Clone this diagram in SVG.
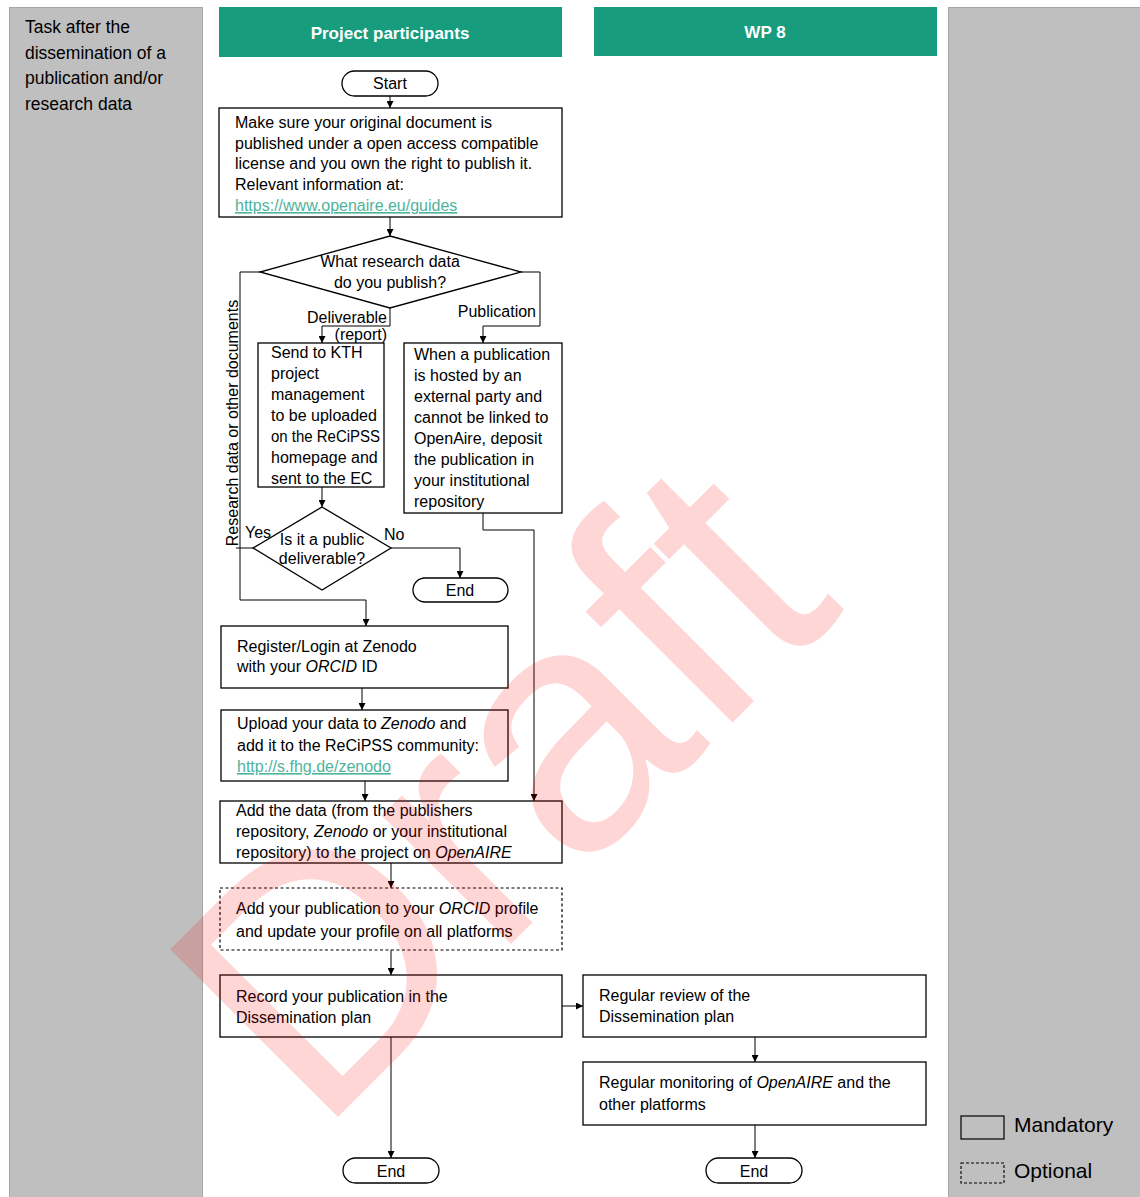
<svg xmlns="http://www.w3.org/2000/svg" width="1140" height="1197" viewBox="0 0 1140 1197">
<style>
text{font-family:"Liberation Sans",Arial,sans-serif;font-size:16px;fill:#000}
.side{font-size:17.5px}
.hdr{font-size:17px;font-weight:bold;fill:#fff;text-anchor:middle}
.lane{fill:#BFBFBF;stroke:#A6A6A6;stroke-width:1}
.hbar{fill:#179C7D}
.box{fill:#fff;stroke:#000;stroke-width:1.3}
.opt{fill:#fff;stroke:#000;stroke-width:1.2;stroke-dasharray:3,2.5}
.c{text-anchor:middle}
.i{font-style:italic}
.link{fill:#4FB39B;text-decoration:underline}
.conn path{fill:none;stroke:#000;stroke-width:1}
.leg{font-size:21px}
.wm{font-size:345px;fill:#FF0000;fill-opacity:0.16}
</style>
<defs>
<marker id="ah" markerWidth="7" markerHeight="7" refX="7" refY="3.5" orient="auto" markerUnits="userSpaceOnUse">
<path d="M0,0 L7,3.5 L0,7 z" fill="#000"/>
</marker>
</defs>
<rect width="1140" height="1197" fill="#fff"/>
<g id="lanes">
<rect class="lane" x="9.5" y="7.5" width="193" height="1195"/>
<rect class="lane" x="948.5" y="7.5" width="197" height="1195"/>
<text class="side" x="25" y="33">Task after the</text>
<text class="side" x="25" y="59">dissemination of a</text>
<text class="side" x="25" y="84">publication and/or</text>
<text class="side" x="25" y="110">research data</text>
</g>
<g id="header-pp">
<rect class="hbar" x="219" y="7" width="343" height="50"/>
<text class="hdr" x="390" y="39">Project participants</text>
</g>
<g id="header-wp8">
<rect class="hbar" x="594" y="7" width="343" height="49"/>
<text class="hdr" x="765" y="38">WP 8</text>
</g>
<g class="conn" id="connectors">
<path d="M390,96 V108" marker-end="url(#ah)"/>
<path d="M390,217 V236" marker-end="url(#ah)"/>
<path d="M260,272 H240 V600 H366 V626" marker-end="url(#ah)"/>
<path d="M521,272 H540 V326 H483 V343" marker-end="url(#ah)"/>
<path d="M390,308 V326 H322 V343" marker-end="url(#ah)"/>
<path d="M322,487 V507" marker-end="url(#ah)"/>
<path d="M253,548 H236"/>
<path d="M391,548 H460 V578" marker-end="url(#ah)"/>
<path d="M483,513 V530 H534 V801" marker-end="url(#ah)"/>
<path d="M362,688 V710" marker-end="url(#ah)"/>
<path d="M365,781 V801" marker-end="url(#ah)"/>
<path d="M391,863 V888" marker-end="url(#ah)"/>
<path d="M391,950 V975" marker-end="url(#ah)"/>
<path d="M391,1037 V1158" marker-end="url(#ah)"/>
<path d="M562,1006 H583" marker-end="url(#ah)"/>
<path d="M755,1037 V1062" marker-end="url(#ah)"/>
<path d="M755,1125 V1158" marker-end="url(#ah)"/>
<text x="238" y="423" class="c" transform="rotate(-90 238 423)">Research data or other documents</text>
<text x="387" y="323" text-anchor="end">Deliverable</text>
<text x="387" y="340" text-anchor="end">(report)</text>
<text x="536" y="317" text-anchor="end">Publication</text>
<text x="245" y="538">Yes</text>
<text x="384" y="540">No</text>
</g>
<g id="start">
<rect class="box" x="342" y="71" width="96" height="25" rx="12.5"/>
<text class="c" x="390" y="89">Start</text>
</g>
<g id="check-license">
<rect class="box" x="219" y="108" width="343" height="109"/>
<text x="235" y="128">Make sure your original document is</text>
<text x="235" y="149">published under a open access compatible</text>
<text x="235" y="169">license and you own the right to publish it.</text>
<text x="235" y="190">Relevant information at:</text>
<text x="235" y="211" class="link">https://www.openaire.eu/guides</text>
</g>
<g id="what-data">
<polygon class="box" points="390,236 521,272 390,308 260,272"/>
<text class="c" x="390" y="267">What research data</text>
<text class="c" x="390" y="288">do you publish?</text>
</g>
<g id="send-kth">
<rect class="box" x="258" y="343" width="126" height="144"/>
<text x="271" y="358">Send to KTH</text>
<text x="271" y="379">project</text>
<text x="271" y="400">management</text>
<text x="271" y="421">to be uploaded</text>
<text x="271" y="442" textLength="109" lengthAdjust="spacingAndGlyphs">on the ReCiPSS</text>
<text x="271" y="463">homepage and</text>
<text x="271" y="484">sent to the EC</text>
</g>
<g id="publication-hosted">
<rect class="box" x="404" y="343" width="158" height="170"/>
<text x="414" y="360">When a publication</text>
<text x="414" y="381">is hosted by an</text>
<text x="414" y="402">external party and</text>
<text x="414" y="423">cannot be linked to</text>
<text x="414" y="444">OpenAire, deposit</text>
<text x="414" y="465">the publication in</text>
<text x="414" y="486">your institutional</text>
<text x="414" y="507">repository</text>
</g>
<g id="public-deliverable">
<polygon class="box" points="322,507 391,548 322,590 253,548"/>
<text class="c" x="322" y="545">Is it a public</text>
<text class="c" x="322" y="564">deliverable?</text>
</g>
<g id="end-1">
<rect class="box" x="413" y="578" width="95" height="24" rx="12"/>
<text class="c" x="460" y="596">End</text>
</g>
<g id="register-zenodo">
<rect class="box" x="221" y="626" width="287" height="62"/>
<text x="237" y="652">Register/Login at Zenodo</text>
<text x="237" y="672">with your <tspan class="i">ORCID</tspan> ID</text>
</g>
<g id="upload-zenodo">
<rect class="box" x="221" y="710" width="287" height="71"/>
<text x="237" y="729">Upload your data to <tspan class="i">Zenodo</tspan> and</text>
<text x="237" y="751">add it to the ReCiPSS community:</text>
<text x="237" y="772" class="link">http://s.fhg.de/zenodo</text>
</g>
<g id="add-openaire">
<rect class="box" x="220" y="801" width="342" height="62"/>
<text x="236" y="816">Add the data (from the publishers</text>
<text x="236" y="837">repository, <tspan class="i">Zenodo</tspan> or your institutional</text>
<text x="236" y="858">repository) to the project on <tspan class="i">OpenAIRE</tspan></text>
</g>
<g id="add-orcid">
<rect class="opt" x="220" y="888" width="342" height="62"/>
<text x="236" y="914">Add your publication to your <tspan class="i">ORCID</tspan> profile</text>
<text x="236" y="937">and update your profile on all platforms</text>
</g>
<g id="record-plan">
<rect class="box" x="220" y="975" width="342" height="62"/>
<text x="236" y="1002">Record your publication in the</text>
<text x="236" y="1023">Dissemination plan</text>
</g>
<g id="end-2">
<rect class="box" x="343" y="1158" width="96" height="25" rx="12.5"/>
<text class="c" x="391" y="1177">End</text>
</g>
<g id="review-plan">
<rect class="box" x="583" y="975" width="343" height="62"/>
<text x="599" y="1001">Regular review of the</text>
<text x="599" y="1022">Dissemination plan</text>
</g>
<g id="monitoring">
<rect class="box" x="583" y="1062" width="343" height="63"/>
<text x="599" y="1088">Regular monitoring of <tspan class="i">OpenAIRE</tspan> and the</text>
<text x="599" y="1110">other platforms</text>
</g>
<g id="end-3">
<rect class="box" x="706" y="1158" width="96" height="25" rx="12.5"/>
<text class="c" x="754" y="1177">End</text>
</g>
<g id="legend">
<rect x="961" y="1116" width="43" height="23" fill="none" stroke="#000" stroke-width="1.2"/>
<text class="leg" x="1014" y="1132">Mandatory</text>
<rect x="961" y="1163" width="43" height="20" fill="none" stroke="#000" stroke-width="1.1" stroke-dasharray="3,2"/>
<text class="leg" x="1014" y="1178">Optional</text>
</g>
<g id="watermark" transform="translate(337,1118) rotate(-45)">
<text class="wm" x="-27" y="0">Draft</text>
</g>
</svg>
